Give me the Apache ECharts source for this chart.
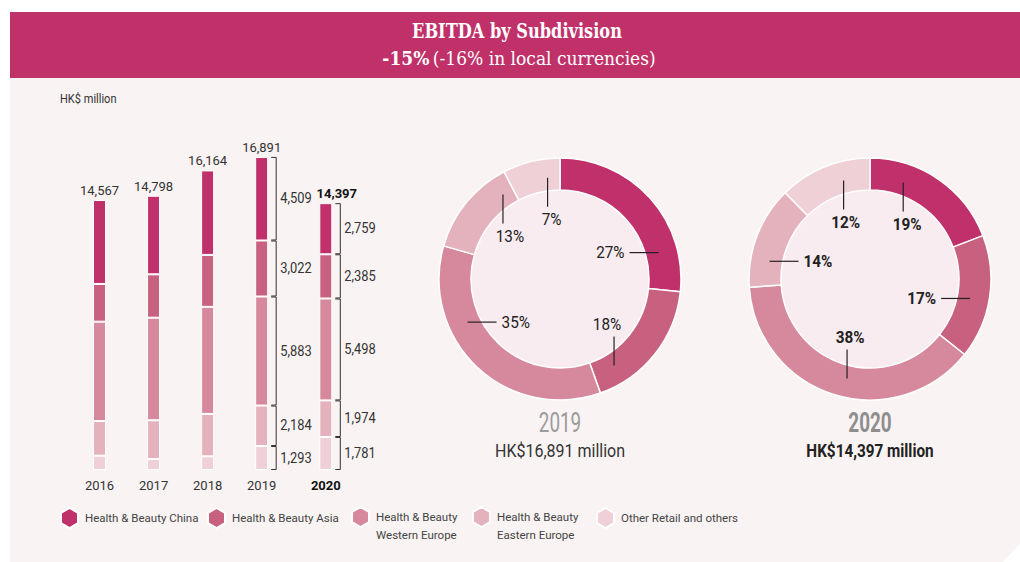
<!DOCTYPE html>
<html>
<head>
<meta charset="utf-8">
<title>EBITDA by Subdivision</title>
<script src="https://cdn.jsdelivr.net/npm/echarts@6/dist/echarts.min.js"></script>
<style>
  html, body { margin: 0; padding: 0; background: #fff; }
  #chart { width: 1020px; height: 562px; }
</style>
</head>
<body>
<div id="chart"></div>
<script>
// data (HK$ million)
const years = ['2016', '2017', '2018', '2019', '2020'];
const totals = [14567, 14798, 16164, 16891, 14397];
const subdivisions = [
  'Health & Beauty China',
  'Health & Beauty Asia',
  'Health & Beauty\nWestern Europe',
  'Health & Beauty\nEastern Europe',
  'Other Retail and others'
];
const hbChina = [4530, 4240, 4560, 4509, 2759];
const hbAsia = [2035, 2340, 2800, 3022, 2385];
const hbWestEurope = [5360, 5535, 5780, 5883, 5498];
const hbEastEurope = [1870, 2090, 2285, 2184, 1974];
const otherRetail = [772, 593, 739, 1293, 1781];
const share2019 = [27, 18, 35, 13, 7];
const share2020 = [19, 17, 38, 14, 12];

// styling
const COLORS = ['#c0306a', '#c8607f', '#d6899d', '#e4b2bd', '#efd0d7'];
const HEADER = '#bf3168';
const PANEL = '#f9f3f3';
const DONUT_FILL = '#f8ecf0';
const SANS = "Roboto, 'Open Sans', sans-serif";
const SERIF = "'DejaVu Serif Condensed', 'DejaVu Serif', serif";
const BAR_W = 13;
const HEX = 'path://M8.5,0 L17,5 L17,15 L8.5,20 L0,15 L0,5 Z';

const segments = [hbChina, hbAsia, hbWestEurope, hbEastEurope, otherRetail];
const fmt = v => Number(v).toLocaleString('en-US');

const chart = echarts.init(document.getElementById('chart'), null, { renderer: 'svg' });

// one grid for 2016-2019, a second one for 2020 which sits apart
const gridTop = 99.3;
const gridHeight = 370.7;
const grids = [
  { left: 72.5, top: gridTop, width: 216.2, height: gridHeight },
  { left: 310.8, top: gridTop, width: 30, height: gridHeight }
];
const gridYears = [years.slice(0, 4), years.slice(4)];

function barSeries(g) {
  const from = g === 0 ? 0 : 4;
  const to = g === 0 ? 4 : 5;
  const list = [];
  // stack bottom-up: other retail first, china on top
  for (let k = segments.length - 1; k >= 0; k--) {
    const s = {
      name: subdivisions[k],
      type: 'bar',
      xAxisIndex: g,
      yAxisIndex: g,
      stack: 'ebitda' + g,
      barWidth: BAR_W,
      itemStyle: { color: COLORS[k], borderColor: '#fff', borderWidth: 1 },
      data: segments[k].slice(from, to)
    };
    if (k === 0) {
      s.label = {
        show: true,
        position: 'top',
        distance: 3,
        fontFamily: SANS,
        fontSize: 13,
        color: g === 0 ? '#333' : '#111',
        fontWeight: g === 0 ? 'normal' : 'bold',
        offset: g === 0 ? [0, 0] : [11, 0],
        formatter: p => fmt(totals[from + p.dataIndex])
      };
    }
    list.push(s);
  }
  return list;
}

// bracket annotations next to 2019 and 2020 bars
function bracketData(yearIdx, catIdx) {
  const out = [];
  let base = 0;
  for (let k = segments.length - 1; k >= 0; k--) {
    const v = segments[k][yearIdx];
    out.push([catIdx, base, base + v, v]);
    base += v;
  }
  return out;
}

function renderBracket(params, api) {
  const bottom = api.coord([api.value(0), api.value(1)]);
  const top = api.coord([api.value(0), api.value(2)]);
  const xBar = bottom[0] + BAR_W / 2;
  const xt = xBar + 3;
  const xv = xBar + 8;
  const y1 = top[1] + 0.5;
  const y2 = bottom[1] - 0.5;
  return {
    type: 'group',
    children: [
      {
        type: 'polyline',
        shape: { points: [[xt, y1], [xv, y1], [xv, y2], [xt, y2]] },
        style: { stroke: '#333', lineWidth: 1, fill: null }
      },
      {
        type: 'text',
        x: xv + 4,
        y: (y1 + y2) / 2,
        scaleX: 0.92,
        style: {
          text: fmt(api.value(3)),
          align: 'left',
          verticalAlign: 'middle',
          fill: '#333',
          fontSize: 14,
          fontFamily: SANS
        }
      }
    ]
  };
}

// donut label placement: anchor angle on the ring, line direction, small text nudge
const donutCenters = [[560, 279], [870, 279]];
const LINE_R = 102;
const LINE_LEN = 29;
const anchors2019 = [15, -58, 205, 124, 97];
const dirs2019 = ['h', 'v', 'h', 'v', 'v'];
const nudge2019 = [0, -7, 0, 7, 4];
const anchors2020 = [71, -11, 257, 170, 105];
const dirs2020 = ['v', 'h', 'v', 'h', 'v'];
const nudge2020 = [4, 0, 3, 0, 2];

function shareLabels(center, anchors, dirs, nudge, bold) {
  return function (params, api) {
    const i = params.dataIndex;
    const a = anchors[i] * Math.PI / 180;
    const cos = Math.cos(a);
    const sin = Math.sin(a);
    const ox = center[0] + LINE_R * cos;
    const oy = center[1] - LINE_R * sin;
    let pts, tx, ty, align, valign;
    if (dirs[i] === 'h') {
      const s = cos > 0 ? 1 : -1;
      const ix = ox - s * LINE_LEN;
      pts = [[ox, oy], [ix, oy]];
      tx = ix - s * 5; ty = oy;
      align = s > 0 ? 'right' : 'left'; valign = 'middle';
    } else {
      const s = sin > 0 ? 1 : -1;
      const iy = oy + s * LINE_LEN;
      pts = [[ox, oy], [ox, iy]];
      tx = ox + nudge[i]; ty = iy + s * 4;
      align = 'center'; valign = s > 0 ? 'top' : 'bottom';
    }
    return {
      type: 'group',
      children: [
        { type: 'polyline', shape: { points: pts }, style: { stroke: '#222', lineWidth: 1.2, fill: null } },
        {
          type: 'text', x: tx, y: ty, scaleX: 0.9,
          style: {
            text: api.value(1) + '%',
            align: align, verticalAlign: valign,
            fill: '#222', fontFamily: SANS, fontSize: 17,
            fontWeight: bold ? 'bold' : 'normal'
          }
        }
      ]
    };
  };
}

function donutSeries(yearIdx, center, shares, anchors, dirs, nudge, bold) {
  return [
    {
      type: 'pie',
      silent: true,
      center: center,
      radius: [0, 89],
      label: { show: false },
      labelLine: { show: false },
      itemStyle: { color: DONUT_FILL },
      data: [{ value: 1, name: 'fill' + yearIdx }]
    },
    {
      type: 'pie',
      center: center,
      radius: [89, 121],
      startAngle: 90,
      clockwise: true,
      itemStyle: { borderColor: '#fff', borderWidth: 1.5 },
      label: { show: false },
      labelLine: { show: false },
      data: segments.map((arr, k) => ({
        name: subdivisions[k],
        value: arr[yearIdx],
        itemStyle: { color: COLORS[k] }
      }))
    },
    {
      type: 'custom',
      coordinateSystem: 'none',
      silent: true,
      z: 5,
      renderItem: shareLabels(center, anchors, dirs, nudge, bold),
      data: shares.map((s, i) => [i, s])
    }
  ];
}

const legendLeft = [60, 207, 351, 472, 596];
const legends = subdivisions.map((name, i) => {
  const twoLine = name.indexOf('\n') >= 0;
  return {
    left: legendLeft[i],
    top: twoLine ? 490 : 507,
    padding: 0,
    itemWidth: 17,
    itemHeight: 20,
    selectedMode: false,
    textStyle: { fontFamily: SANS, fontSize: 11.5, color: '#444', lineHeight: 18, padding: [0, 0, 0, 2] },
    // leading blank line keeps the first text line level with the icon
    formatter: n => (n.indexOf('\n') >= 0 ? ' \n' + n : n),
    data: [{ name: name, icon: HEX }]
  };
});

function caption(text, x, y, size, color, bold, sx) {
  return {
    type: 'text', x: x, y: y, scaleX: sx,
    style: {
      text: text, align: 'center', verticalAlign: 'middle', textAlign: 'center', textVerticalAlign: 'middle',
      fill: color, fontFamily: SANS, fontSize: size, fontWeight: bold ? 'bold' : 'normal'
    }
  };
}

const option = {
  backgroundColor: '#fff',
  animation: false,
  color: COLORS,
  grid: grids,
  xAxis: grids.map((g, i) => ({
    type: 'category',
    gridIndex: i,
    data: gridYears[i],
    axisLine: { show: false },
    axisTick: { show: false },
    axisLabel: {
      margin: 9,
      fontFamily: SANS,
      fontSize: 13,
      color: i === 0 ? '#333' : '#111',
      fontWeight: i === 0 ? 'normal' : 'bold'
    }
  })),
  yAxis: grids.map((g, i) => ({
    type: 'value', gridIndex: i, min: 0, max: 20000, show: false
  })),
  legend: legends,
  graphic: [
    { type: 'rect', silent: true, shape: { x: 10, y: 12, width: 1010, height: 66 }, style: { fill: HEADER } },
    { type: 'polygon', silent: true, shape: { points: [[10, 78], [1020, 78], [1020, 544], [1003, 562], [10, 562]] }, style: { fill: PANEL } },
    {
      type: 'text', x: 517, y: 31, scaleX: 0.9,
      style: { text: 'EBITDA by Subdivision', align: 'center', verticalAlign: 'middle', textAlign: 'center', textVerticalAlign: 'middle',
        fill: '#fff', fontFamily: SERIF, fontWeight: 'bold', fontSize: 20 }
    },
    {
      type: 'text', x: 519, y: 58,
      style: {
        text: '{b|-15%} {n|(-16% in local currencies)}',
        align: 'center', verticalAlign: 'middle', textAlign: 'center', textVerticalAlign: 'middle',
        rich: {
          b: { fill: '#fff', color: '#fff', fontFamily: SERIF, fontWeight: 'bold', fontSize: 19 },
          n: { fill: '#fff', color: '#fff', fontFamily: SERIF, fontSize: 19 }
        }
      }
    },
    {
      type: 'text', x: 60, y: 99, scaleX: 0.92,
      style: { text: 'HK$ million', align: 'left', verticalAlign: 'middle', textAlign: 'left', textVerticalAlign: 'middle',
        fill: '#333', fontFamily: SANS, fontSize: 12 }
    },
    caption(years[3], donutCenters[0][0], 423, 27, '#9b9b9b', false, 0.7),
    caption('HK$' + fmt(totals[3]) + ' million', donutCenters[0][0], 451, 18, '#333', false, 0.89),
    caption(years[4], donutCenters[1][0], 423, 27, '#8e8e8e', true, 0.7),
    caption('HK$' + fmt(totals[4]) + ' million', donutCenters[1][0], 451, 18, '#222', true, 0.85)
  ],
  series: [
    ...barSeries(0),
    ...barSeries(1),
    {
      type: 'custom', xAxisIndex: 0, yAxisIndex: 0, silent: true,
      encode: { x: 0, y: [1, 2] },
      renderItem: renderBracket,
      data: bracketData(3, 3)
    },
    {
      type: 'custom', xAxisIndex: 1, yAxisIndex: 1, silent: true,
      encode: { x: 0, y: [1, 2] },
      renderItem: renderBracket,
      data: bracketData(4, 0)
    },
    ...donutSeries(3, donutCenters[0], share2019, anchors2019, dirs2019, nudge2019, false),
    ...donutSeries(4, donutCenters[1], share2020, anchors2020, dirs2020, nudge2020, true)
  ]
};

chart.setOption(option);
window.addEventListener('resize', () => chart.resize());
</script>
</body>
</html>
